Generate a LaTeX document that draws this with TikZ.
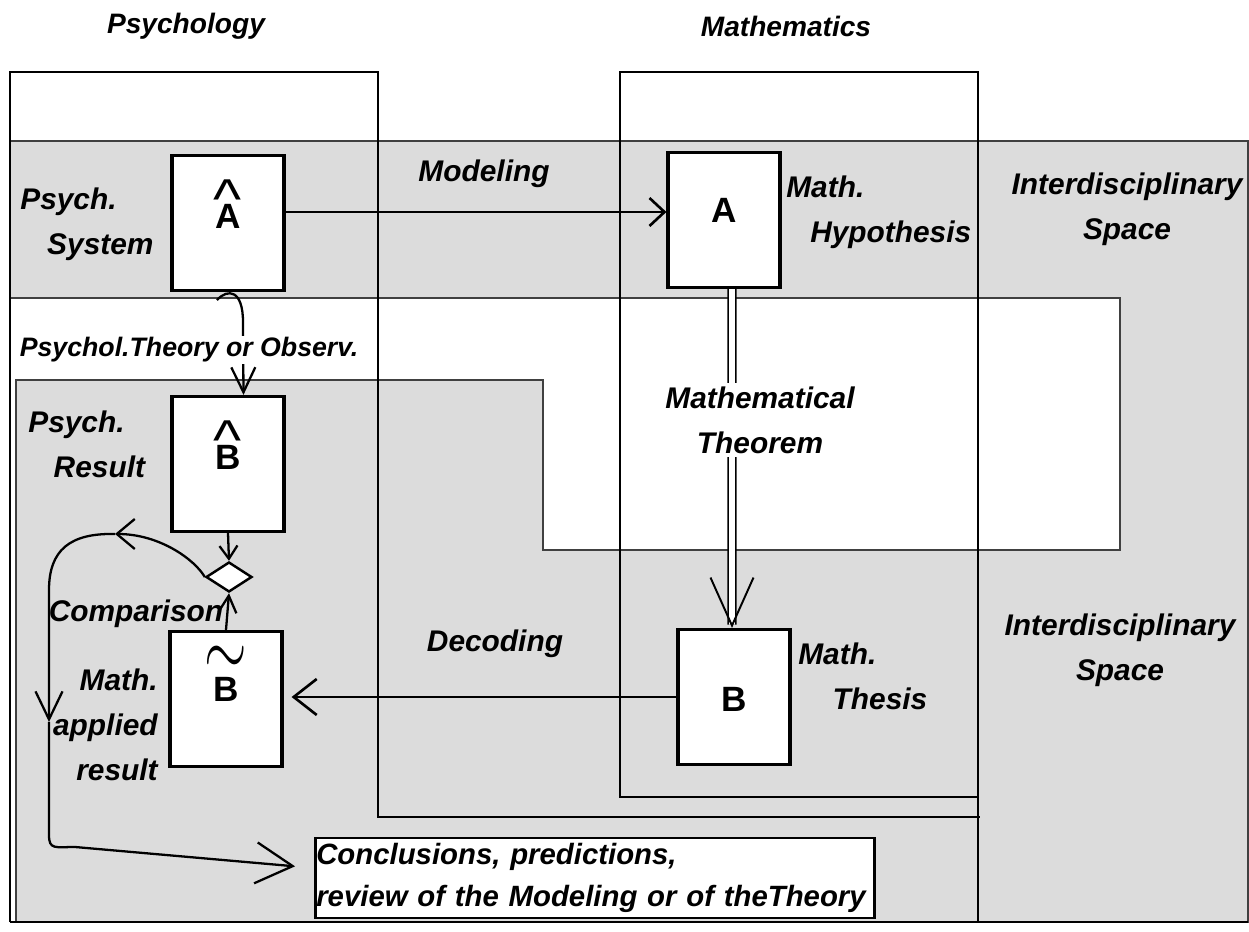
\documentclass[tikz,border=0pt]{standalone}
\usepackage{fontspec}
\setmainfont{Liberation Sans}
\usetikzlibrary{arrows.meta,positioning,calc,shapes.geometric}
\definecolor{bandgray}{RGB}{220,220,220}
\newcommand{\hatted}[1]{\ooalign{#1\cr\hidewidth\raisebox{0.3em}{\mdseries\scalebox{1.7}[1.6]{\textasciicircum}}\hidewidth\cr}}
\newcommand{\tilded}[1]{\ooalign{#1\cr\hidewidth\raisebox{0.75em}{\scalebox{1.5}[2.2]{$\sim$}}\hidewidth\cr}}

\begin{document}
\begin{tikzpicture}[
    x=0.02cm, y=-0.02cm,
    font=\fontsize{17}{25.5}\selectfont\bfseries\itshape,
    frame/.style={draw, line width=1.1pt},
    band/.style={fill=bandgray, draw=black!75, line width=0.6pt},
    sbox/.style={draw, line width=1.8pt, fill=white, minimum width=2.24cm, minimum height=2.7cm, inner sep=0pt},
    glyph/.style={font=\fontsize{20}{20}\selectfont\bfseries, inner sep=0pt, anchor=base},
    lbl/.style={align=left, inner sep=0pt},
    title/.style={font=\fontsize{16}{20}\selectfont\bfseries\itshape, inner sep=0pt},
    cmpbox/.style={diamond, draw, line width=1.4pt, fill=white, minimum width=0.92cm, minimum height=0.6cm, inner sep=0pt},
    arrow/.style={line width=1.5pt, -{Straight Barb[length=4.6mm, width=7.2mm]}},
    smallarrow/.style={line width=1.3pt, -{Straight Barb[length=2.6mm, width=3.6mm]}},
    midarrow/.style={line width=1.3pt, -{Straight Barb[length=3.6mm, width=6mm]}},
    bigarrow/.style={line width=1.3pt, -{Straight Barb[length=7.4mm, width=8.2mm]}}
  ]
    \useasboundingbox (0,0) rectangle (1249,932);

    % shaded interdisciplinary space
    \path[band] (10,141) -- (1248,141) -- (1248,922) -- (16,922) -- (16,380) -- (543,380)
      -- (543,550) -- (1120,550) -- (1120,298) -- (10,298) -- cycle;

    % the two disciplines
    \draw[frame] (10,922) -- (10,72) -- (378,72) -- (378,817) -- (980,817);
    \draw[frame] (620,72) rectangle (978,797);
    \draw[frame] (978,797) -- (978,922);
    \draw[line width=1.4pt] (10,922) -- (1248,922);

    \node[title] (psy) at (186,26) {Psychology};
    \node[title] (mth) at (786,26) {Mathematics};

    \node[sbox] (ahat) at (228,223) {};
    \node[sbox] (a) at (724,220) {};
    \node[sbox] (bhat) at (228,464) {};
    \node[sbox] (btil) at (226,699) {};
    \node[sbox] (b) at (734,697) {};
    \node[cmpbox] (cmp) at (229,577) {};

    \node[glyph] (ahat-t) at ([yshift=-1.5cm]ahat.north) {\hatted{A}};
    \node[glyph] (a-t) at ([yshift=-1.44cm]a.north) {A};
    \node[glyph] (bhat-t) at ([yshift=-1.5cm]bhat.north) {\hatted{B}};
    \node[glyph] (btil-t) at ([yshift=-1.44cm]btil.north) {\tilded{B}};
    \node[glyph] (b-t) at ([yshift=-1.68cm]b.north) {B};

    \node[lbl, anchor=west] (psys) at (20,224) {Psych.\\\hspace*{0.9em}System};
    \node[lbl, anchor=west] (mhyp) at (786,212) {Math.\\\hspace*{0.8em}Hypothesis};
    \node[lbl, align=center] (isp1) at (1127,209) {Interdisciplinary\\Space};
    \node[lbl] (model) at (484,174) {Modeling};
    \node[lbl, anchor=west] (pres) at (28,444) {Psych.\\\hspace*{0.85em}Result};
    \node[lbl, align=center] (isp2) at (1120,650) {Interdisciplinary\\Space};
    \node[lbl] (decod) at (495,644) {Decoding};
    \node[lbl, anchor=west] (mthes) at (798,676) {Math.\\\hspace*{1.15em}Thesis};
    \node[lbl] (comp) at (136,614) {Comparison};
    \node[lbl, align=right, anchor=east] (mapp) at (158,725) {Math.\\applied\\result};

    \node[draw, line width=1.6pt, fill=white, align=left, inner xsep=0.5pt, inner ysep=3pt,
      text width=11.15cm, font=\fontsize{16.7}{24}\selectfont\bfseries\itshape] (conc) at (595,878)
      {Conclusions, predictions,\\review of the Modeling or of theTheory};

    \draw[arrow, -{Straight Barb[length=3mm, width=5.6mm]}] ([yshift=0.22cm]ahat.east) -- ([yshift=0.22cm]ahat.east -| a.west);
    \draw[line width=1pt, double, double distance=3.4pt, -{Straight Barb[length=9.6mm, width=8.6mm, line width=1.1pt]}]
      ([xshift=0.16cm]a.south) -- ([xshift=-0.04cm]b.north);
    \draw[arrow, shorten >=0.16cm] (b.west) -- (b.west -| btil.east);
    \draw[arrow, line width=1.3pt, -{Straight Barb[length=5mm, width=4.8mm]}] ([xshift=-0.22cm, yshift=-0.16cm]ahat.south)
      .. controls (228,288) and (243,290) .. (243,322) -- ([xshift=0.31cm]bhat.north);
    \draw[smallarrow] (bhat.south) -- (cmp.north);
    \draw[smallarrow, -{Straight Barb[length=3.4mm, width=3.6mm]}] (btil.north) -- (cmp.south);

    \coordinate (lpk) at (115,534);
    \coordinate (ldn) at (49,722);
    \draw[midarrow] (cmp.west) .. controls (195,560) and (160,534) .. (lpk);
    \draw[midarrow, -{Straight Barb[length=5.6mm, width=5.4mm]}] (lpk) .. controls (70,533) and (49,550) .. (49,590) -- (ldn);
    \draw[bigarrow, shorten >=0.38cm] (ldn) -- (49,835) .. controls (49,850) and (55,847) .. (75,847)
      -- ([yshift=0.2cm]conc.west);

    \node[lbl, fill=white, inner sep=1pt, font=\fontsize{15.2}{20}\selectfont\bfseries\itshape] (ptheo) at (189,350) {Psychol.Theory or Observ.};
    \node[lbl, align=center, fill=white, inner sep=2pt] (mtheo) at (760,420) {Mathematical\\Theorem};
  \end{tikzpicture}
\end{document}
